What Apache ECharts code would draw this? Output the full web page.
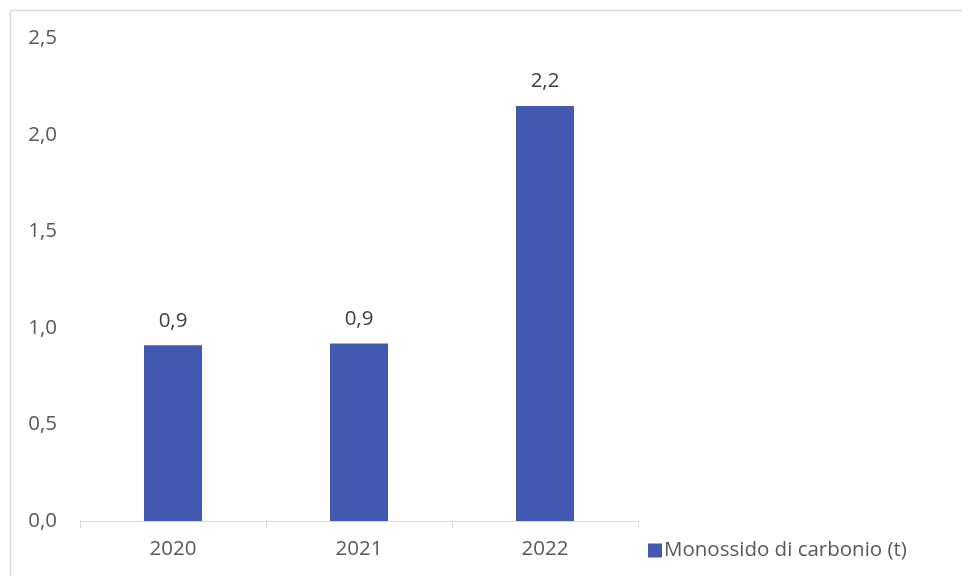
<!DOCTYPE html>
<html><head><meta charset="utf-8">
<script src="https://cdn.jsdelivr.net/npm/echarts@6/dist/echarts.min.js"></script>
<style>html,body{margin:0;padding:0;background:#fff}#c{width:962px;height:576px}</style>
</head><body><div id="c"></div>
<script>
var categories = ['2020', '2021', '2022'];
var values = [0.91, 0.92, 2.15];
var seriesName = 'Monossido di carbonio (t)';

function fmt(v) { return (Math.round(v * 10) / 10).toFixed(1).replace('.', ','); }

var chart = echarts.init(document.getElementById('c'));
var font = '"Open Sans", "Noto Sans", sans-serif';
var fs = 20.5;
chart.setOption({
  animation: false,
  backgroundColor: '#fff',
  graphic: [{type: 'rect', shape: {x: 10.5, y: 10.5, width: 980, height: 600}, style: {fill: 'none', stroke: '#d9d9d9', lineWidth: 1.5}, silent: true}],
  grid: {left: 80, top: 38.5, width: 558, height: 482.5},
  legend: {
    data: [seriesName], left: 643, top: 535, itemWidth: 14, itemHeight: 14, itemGap: 6,
    icon: 'rect',
    textStyle: {fontSize: fs, color: '#595959', fontFamily: font, padding: [0,0,0,-3]}
  },
  xAxis: {
    type: 'category', data: categories,
    axisLine: {lineStyle: {color: '#d9d9d9', width: 1}},
    axisTick: {show: true, length: 7, lineStyle: {color: '#d9d9d9'}},
    axisLabel: {fontSize: fs, color: '#595959', fontFamily: font, margin: 18}
  },
  yAxis: {
    type: 'value', min: 0, max: 2.5, interval: 0.5,
    axisLine: {show: false}, axisTick: {show: false}, splitLine: {show: false},
    axisLabel: {fontSize: fs, color: '#595959', fontFamily: font, margin: 23, formatter: fmt}
  },
  series: [{
    name: seriesName, type: 'bar', data: values, barWidth: 58,
    itemStyle: {color: '#4358B0'},
    label: {show: true, position: 'top', distance: 14, fontSize: fs, color: '#404040', fontFamily: font,
      formatter: function (p) { return fmt(p.value); }}
  }]
});
</script></body></html>
